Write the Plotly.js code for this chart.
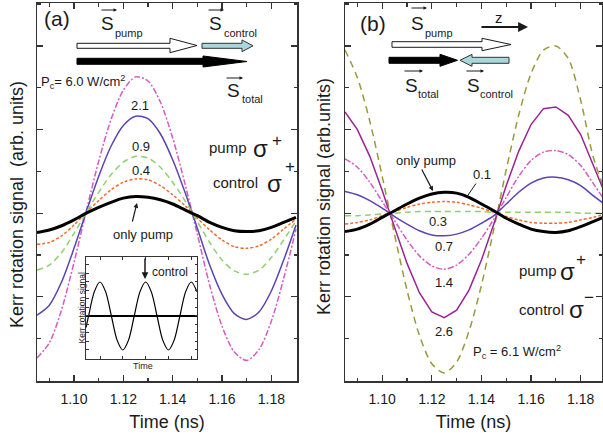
<!DOCTYPE html>
<html>
<head>
<meta charset="utf-8">
<script src="https://cdn.plot.ly/plotly-3.0.1.min.js"></script>
<style>html,body{margin:0;padding:0;background:#fff;}#chart{width:603px;height:439px;}</style>
</head>
<body>
<div id="chart"></div>
<script>
// ---------- data ----------
const time = [1.085,1.090,1.095,1.100,1.105,1.110,1.115,1.120,1.125,1.130,1.135,1.140,1.145,1.150,1.155,1.160,1.165,1.170,1.175,1.180,1.185,1.190];

// panel (a): pump sigma+, control sigma+
const aOnlyPump = [-0.23,-0.20,-0.15,-0.08,0.00,0.07,0.13,0.18,0.20,0.19,0.16,0.11,0.04,-0.03,-0.11,-0.17,-0.21,-0.22,-0.21,-0.17,-0.11,-0.05];
const aPc04     = [-0.37,-0.35,-0.27,-0.14,0.01,0.15,0.28,0.37,0.41,0.40,0.33,0.22,0.09,-0.06,-0.20,-0.32,-0.40,-0.42,-0.39,-0.31,-0.19,-0.07];
const aPc09     = [-0.68,-0.62,-0.47,-0.24,0.01,0.25,0.46,0.61,0.68,0.66,0.55,0.37,0.15,-0.10,-0.35,-0.56,-0.69,-0.73,-0.68,-0.53,-0.32,-0.09];
const aPc21     = [-1.22,-1.10,-0.82,-0.42,0.02,0.44,0.80,1.05,1.16,1.13,0.95,0.64,0.25,-0.18,-0.62,-0.97,-1.20,-1.27,-1.18,-0.93,-0.56,-0.14];
const aPc60     = [-1.73,-1.55,-1.15,-0.59,0.03,0.62,1.12,1.47,1.63,1.58,1.33,0.90,0.35,-0.25,-0.86,-1.35,-1.66,-1.76,-1.63,-1.29,-0.78,-0.19];

// panel (b): pump sigma+, control sigma-
const bOnlyPump = [-0.22,-0.19,-0.13,-0.05,0.03,0.11,0.18,0.23,0.25,0.24,0.19,0.11,0.03,-0.06,-0.13,-0.19,-0.22,-0.23,-0.21,-0.16,-0.10,-0.04];
const bPc01     = [-0.13,-0.11,-0.08,-0.03,0.02,0.07,0.11,0.13,0.14,0.13,0.10,0.06,0.01,-0.04,-0.08,-0.11,-0.12,-0.12,-0.11,-0.08,-0.05,-0.01];
const bPc03     = [-0.03,-0.03,-0.02,-0.01,0.00,0.01,0.02,0.02,0.02,0.02,0.02,0.02,0.01,0.01,0.01,0.01,0.01,0.01,0.01,0.00,0.00,0.00];
const bPc07     = [0.26,0.22,0.15,0.06,-0.04,-0.13,-0.21,-0.26,-0.27,-0.25,-0.20,-0.12,-0.03,0.11,0.25,0.36,0.42,0.43,0.40,0.33,0.21,0.10];
const bPc14     = [0.65,0.55,0.37,0.14,-0.09,-0.32,-0.51,-0.63,-0.67,-0.62,-0.49,-0.30,-0.07,0.19,0.44,0.63,0.73,0.75,0.70,0.57,0.36,0.14];
const bPc26     = [1.21,1.00,0.68,0.27,-0.17,-0.60,-0.95,-1.18,-1.25,-1.16,-0.92,-0.56,-0.13,0.33,0.74,1.06,1.25,1.27,1.17,0.94,0.58,0.22];
const bPc61     = [1.95,1.62,1.10,0.44,-0.26,-0.92,-1.46,-1.80,-1.91,-1.78,-1.41,-0.86,-0.19,0.52,1.17,1.67,1.95,2.00,1.85,1.35,0.68,0.25];

// inset: sketch of the precession signal
const insetTime   = [0,0.56,1.81,3.06,4.31,5.56,6.81,8.06,9.31,10.56,11.81,13.06,14.31,15.56,16.81,18.06,19.31,20.56,21.81,23.06,24.31];
const insetSignal = [-0.34,0,0.71,1,0.71,0,-0.71,-1,-0.71,0,0.71,1,0.71,0,-0.71,-1,-0.71,0,0.71,1,0.71];

const xTickVals = [1.10,1.12,1.14,1.16,1.18];
const xTickText = ['1.10','1.12','1.14','1.16','1.18'];
const xMinorVals = [1.09,1.11,1.13,1.15,1.17,1.19];

// ---------- styling ----------
const FONT = 'Liberation Sans, Arial, Helvetica, sans-serif';
const TXT = '#1a1a1a';
const W = 603, H = 439;
const P = x => x / W;
const Q = y => 1 - y / H;

function line(x, y, color, width, dash, xa, ya, shape) {
  return {x: x, y: y, type: 'scatter', mode: 'lines', xaxis: xa, yaxis: ya, hoverinfo: 'skip',
    line: {color: color, width: width, dash: dash, shape: shape || 'spline', smoothing: 0.8}};
}

const traces = [
  line(time, aPc60, '#d45ac4', 1.5, '6px,2px,2px,2px', 'x', 'y'),
  line(time, aPc21, '#5a44b2', 1.5, 'solid', 'x', 'y'),
  line(time, aPc09, '#8fd06c', 1.5, '6px,4px', 'x', 'y'),
  line(time, aPc04, '#f26a2a', 1.5, '3px,2px', 'x', 'y'),
  line(time, aOnlyPump, '#000000', 3, 'solid', 'x', 'y'),

  line(time, bPc61, '#9a9a3a', 1.5, '7px,5px', 'x2', 'y2'),
  line(time, bPc26, '#9c2393', 1.5, 'solid', 'x2', 'y2', 'linear'),
  line(time, bPc14, '#d45ac4', 1.5, '6px,2px,2px,2px', 'x2', 'y2'),
  line(time, bPc07, '#5a44b2', 1.5, 'solid', 'x2', 'y2'),
  line(time, bPc03, '#8fd06c', 1.5, '6px,4px', 'x2', 'y2'),
  line(time, bPc01, '#f26a2a', 1.5, '3px,2px', 'x2', 'y2'),
  line(time, bOnlyPump, '#000000', 3, 'solid', 'x2', 'y2'),

  line(insetTime, insetSignal, '#000000', 1.2, 'solid', 'x3', 'y3')
];

const axBase = {showline: true, linecolor: '#333', linewidth: 1.5, mirror: 'ticks', ticks: 'inside',
  ticklen: 6, tickwidth: 1.2, tickcolor: '#333', showgrid: false, zeroline: false, fixedrange: true};

function xAxis(domain, range, anchor) {
  return Object.assign({}, axBase, {domain: domain, range: range, anchor: anchor,
    tickmode: 'array', tickvals: xTickVals, ticktext: xTickText, ticklabelstandoff: 5,
    minor: {tickmode: 'array', tickvals: xMinorVals, ticks: 'inside', ticklen: 3.5, tickcolor: '#333', tickwidth: 1.2},
    tickfont: {family: FONT, size: 14, color: TXT},
    title: {text: 'Time (ns)', font: {family: FONT, size: 18, color: TXT}, standoff: 9}});
}
function yAxis(domain, anchor) {
  return Object.assign({}, axBase, {domain: domain, range: [-2.006, 2.513], anchor: anchor,
    tickmode: 'linear', tick0: 0, dtick: 1, showticklabels: false,
    minor: {tickmode: 'linear', tick0: 0.5, dtick: 1, ticks: 'inside', ticklen: 3.5, tickcolor: '#333', tickwidth: 1.2}});
}

const yDom = [Q(381), Q(3)];

function txt(x, y, t, size, extra) {
  return Object.assign({xref: 'paper', yref: 'paper', x: P(x), y: Q(y), text: t, showarrow: false,
    xanchor: 'center', yanchor: 'middle', font: {family: FONT, size: size, color: TXT}}, extra || {});
}
function arr(x0, y0, x1, y1, opts) {
  return Object.assign({xref: 'paper', yref: 'paper', x: P(x1), y: Q(y1), ax: x0 - x1, ay: y0 - y1,
    axref: 'pixel', ayref: 'pixel', text: '', showarrow: true, arrowhead: 2, arrowsize: 1,
    arrowwidth: 1, arrowcolor: TXT, standoff: 0, startstandoff: 0}, opts || {});
}
function poly(pts, fill, lc) {
  const d = 'M ' + pts.map(p => P(p[0]).toFixed(5) + ',' + Q(p[1]).toFixed(5)).join(' L ') + ' Z';
  return {type: 'path', xref: 'paper', yref: 'paper', path: d, fillcolor: fill, line: {color: lc, width: 1}, layer: 'above'};
}

const annotations = [
  // panel (a)
  txt(57, 19, '(a)', 21),
  txt(107.5, 23, 'S', 19), txt(129, 33.5, 'pump', 11), arr(100, 10, 117, 10, {arrowsize: 0.7}),
  txt(215, 23, 'S', 19), txt(240, 33.5, 'control', 11), arr(207, 10, 224, 10, {arrowsize: 0.7}),
  txt(233.5, 90, 'S', 19), txt(252, 99, 'total', 11), arr(225, 78, 243, 78, {arrowsize: 0.7}),
  txt(83, 82, 'P<sub>c</sub>= 6.0 W/cm<sup>2</sup>', 13),
  txt(140, 106, '2.1', 13), txt(141, 146, '0.9', 13), txt(141, 170, '0.4', 13),
  txt(228, 147, 'pump', 15), txt(260, 148, 'σ', 24), txt(276.5, 140, '+', 17),
  txt(235, 182, 'control', 15), txt(274, 183, 'σ', 24), txt(289.5, 167, '+', 17),
  txt(143, 234, 'only pump', 13), arr(132, 223, 137, 203, {arrowsize: 0.8, arrowwidth: 1.2}),
  txt(17, 205, 'Kerr rotation signal\u00a0\u00a0(arb. units)', 18, {textangle: -90}),
  // inset
  txt(170, 272, 'control', 12), arr(145, 257, 145, 279, {arrowsize: 0.9, arrowwidth: 1.5}),
  txt(81.5, 308, 'Kerr rotation signal', 8.5, {textangle: -90}),
  txt(143, 366, 'Time', 9),
  // panel (b)
  txt(373, 24, '(b)', 21),
  txt(417.5, 23, 'S', 19), txt(438.5, 33.5, 'pump', 11), arr(410, 8, 427, 8, {arrowsize: 0.7}),
  txt(499, 18, 'z', 15), arr(480, 27, 528, 27, {arrowsize: 1.1, arrowwidth: 1.8}),
  txt(411, 85, 'S', 19), txt(428, 94.5, 'total', 11), arr(403, 71, 423, 71, {arrowsize: 0.7}),
  txt(473.5, 85, 'S', 19), txt(496, 94.5, 'control', 11), arr(465, 71, 484, 71, {arrowsize: 0.7}),
  txt(426, 161, 'only pump', 13), arr(421, 168, 433, 191, {arrowsize: 0.8, arrowwidth: 1.2}),
  txt(482, 175, '0.1', 13), arr(477, 182, 466, 198, {arrowhead: 0, arrowwidth: 1}),
  txt(438, 221, '0.3', 13), txt(444, 246, '0.7', 13), txt(444, 282, '1.4', 13), txt(444, 331, '2.6', 13),
  txt(517, 352, 'P<sub>c</sub> = 6.1 W/cm<sup>2</sup>', 13),
  txt(537.5, 270, 'pump', 15), txt(567, 271, 'σ', 24), txt(581, 259, '+', 17),
  txt(541.5, 309, 'control', 15), txt(576, 309, 'σ', 24), txt(589, 297, '\u2212', 17),
  txt(324.5, 196.5, 'Kerr rotation signal (arb.units)', 18, {textangle: -90})
];

const shapes = [
  // panel (a) beam arrows
  poly([[77,43.3],[170,43.3],[170,38.3],[197,45.5],[170,52.7],[170,48.3],[77,48.3]], '#ffffff', '#1a1a1a'),
  poly([[202,43.3],[242,43.3],[242,40],[253,45.8],[242,51.7],[242,48.3],[202,48.3]], '#a8d8dc', '#333333'),
  poly([[77,58.3],[203,58.3],[203,56],[247,61.5],[203,67],[203,64.3],[77,64.3]], '#000000', '#000000'),
  // panel (b) beam arrows
  poly([[392,41.7],[482,41.7],[482,38.3],[511,44.5],[482,50.7],[482,47.3],[392,47.3]], '#ffffff', '#1a1a1a'),
  poly([[389,57.3],[440,57.3],[440,54.3],[457.5,60.3],[440,66.3],[440,63.3],[389,63.3]], '#000000', '#000000'),
  poly([[509,57.3],[472,57.3],[472,54.3],[460,60.3],[472,66.3],[472,63.3],[509,63.3]], '#a8d8dc', '#333333')
];

const layout = {
  width: W, height: H,
  margin: {l: 0, r: 0, t: 0, b: 0, pad: 0},
  paper_bgcolor: '#ffffff', plot_bgcolor: 'rgba(0,0,0,0)',
  showlegend: false,
  font: {family: FONT, color: TXT},
  xaxis: xAxis([P(37), P(297)], [1.085, 1.1904], 'y'),
  yaxis: yAxis(yDom, 'x'),
  xaxis2: xAxis([P(345), P(602)], [1.085, 1.1886], 'y2'),
  yaxis2: yAxis(yDom, 'x2'),
  xaxis3: Object.assign({}, axBase, {domain: [P(86), P(197)], range: [0, 24.31], anchor: 'y3',
    linewidth: 1, ticklen: 3, tickwidth: 1, tickmode: 'linear', tick0: 3.1, dtick: 5, showticklabels: false}),
  yaxis3: Object.assign({}, axBase, {domain: [Q(359), Q(257)], range: [-1.265, 1.735], anchor: 'x3',
    linewidth: 1, ticklen: 2.5, tickwidth: 1, tickmode: 'linear', tick0: 0, dtick: 0.25, showticklabels: false,
    zeroline: true, zerolinecolor: '#000', zerolinewidth: 1.2}),
  annotations: annotations,
  shapes: shapes
};

Plotly.newPlot('chart', traces, layout, {staticPlot: true, displayModeBar: false});
</script>
</body>
</html>
